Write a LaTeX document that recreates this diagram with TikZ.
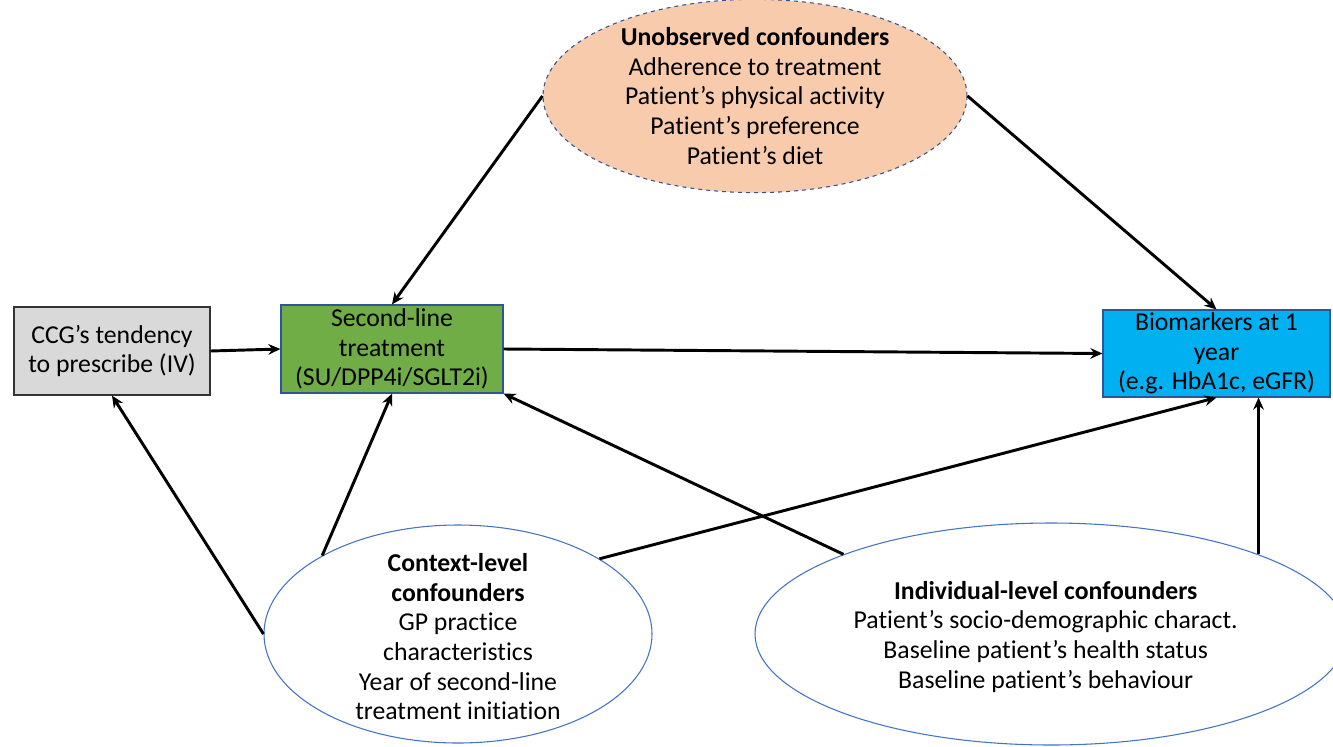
\documentclass[tikz,border=0pt]{standalone}
\usepackage{fontspec}
\setmainfont[Ligatures={NoCommon}]{Carlito}
\usetikzlibrary{shapes.geometric,arrows.meta}
\definecolor{peach}{HTML}{F8CBAD}
\definecolor{dashblue}{HTML}{2F5597}
\definecolor{boxgray}{HTML}{D9D9D9}
\definecolor{boxgreen}{HTML}{70AD47}
\definecolor{boxcyan}{HTML}{00B0F0}
\definecolor{ellblue}{HTML}{4472C4}
\tikzset{
  every node/.style={font=\fontsize{19.3}{22.2}\selectfont, align=center, inner sep=0pt},
  boxnode/.style={rectangle, draw, line width=0.9pt},
  ellnode/.style={ellipse, draw=ellblue, line width=0.8pt, fill=white},
  conn/.style={line width=2.2pt, -{Stealth[length=9pt,width=8pt]}},
}
\begin{document}
\begin{tikzpicture}[x=0.75pt,y=-0.75pt]
\useasboundingbox (0,0) rectangle (1333,746);
\node[ellipse, draw=dashblue, dashed, line width=0.8pt, fill=peach, minimum width=318pt, minimum height=136.5pt] (unobs) at (755,96)
  {\textbf{Unobserved confounders}\\Adherence to treatment\\Patient’s physical activity\\Patient's preference\\Patient’s diet};
\node[boxnode, draw=black!80, fill=boxgray, minimum width=147pt, minimum height=66pt] (ccg) at (112,351)
  {CCG’s tendency\\to prescribe (IV)};
\node[boxnode, draw=dashblue, fill=boxgreen, minimum width=166.5pt, minimum height=66pt] (sl) at (392,349)
  {Second-line\\treatment\\(SU/DPP4i/SGLT2i)};
\node[boxnode, draw=dashblue, fill=boxcyan, minimum width=170.25pt, minimum height=65.25pt] (bio) at (1216.5,353.5)
  {Biomarkers at 1\\year\\(e.g. HbA1c, eGFR)};
\node[ellnode, minimum width=291pt, minimum height=163.5pt,
  label={[yshift=-2pt]center:{\textbf{Context-level}\\\textbf{confounders}\\GP practice\\characteristics\\Year of second-line\\treatment initiation}}] (ctx) at (458,634) {};
\node[ellnode, minimum width=444pt, minimum height=166.5pt,
  label={[xshift=-4pt,yshift=-2pt]center:{\textbf{Individual-level confounders}\\Patient’s socio-demographic charact.\\Baseline patient’s health status\\Baseline patient’s behaviour}}] (ind) at (1051,634) {};
\draw[conn] (ccg.east) -- (sl.west);
\draw[conn] (sl.east) -- (bio.west);
\draw[conn] (unobs.west) -- (sl.north);
\draw[conn] (unobs.east) -- (bio.north);
\draw[conn] (ctx.west) -- (ccg.south);
\draw[conn] (ctx.150) -- (sl.south);
\draw[conn] (ctx.28) -- (bio.south);
\draw[conn] (ind.159) -- (sl.south east);
\draw[conn] (ind.21) -- (ind.21 |- bio.south);
\end{tikzpicture}
\end{document}
